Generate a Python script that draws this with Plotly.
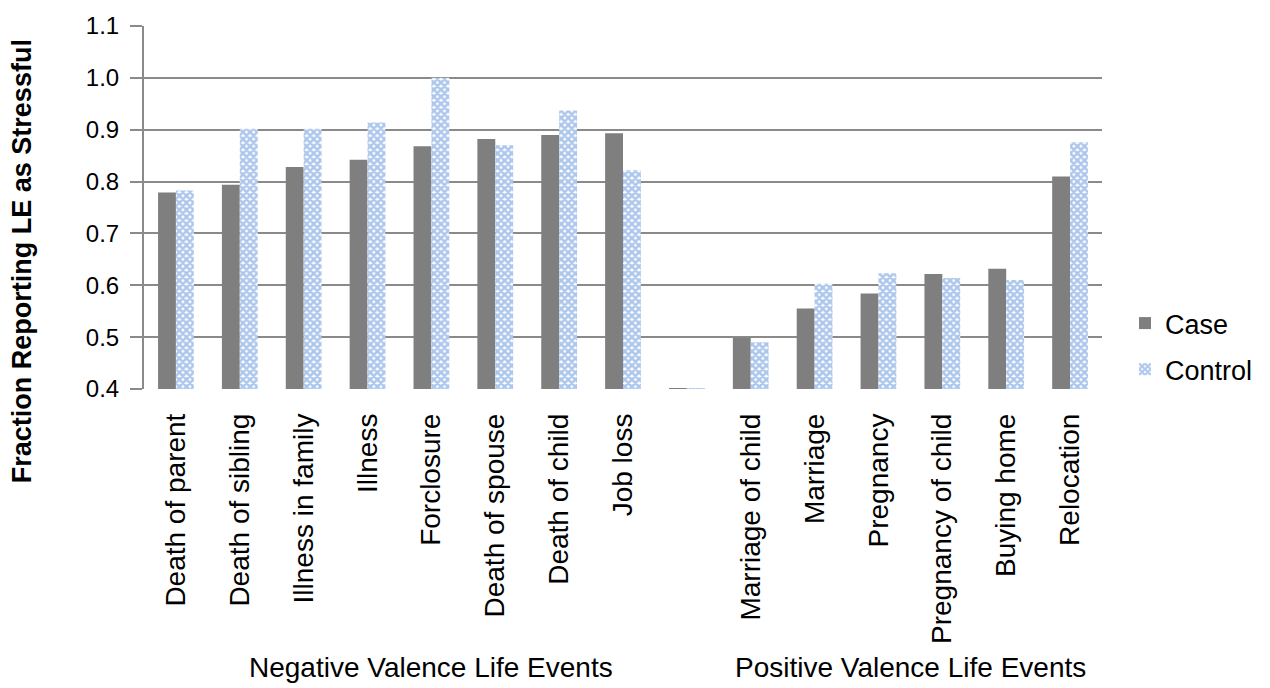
import plotly.graph_objects as go

# Life events (blank slot separates the two valence groups)
categories = [
    "Death of parent", "Death of sibling", "Illness in family", "Illness",
    "Forclosure", "Death of spouse", "Death of child", "Job loss", " ",
    "Marriage of child", "Marriage", "Pregnancy", "Pregnancy of child",
    "Buying home", "Relocation",
]
case_vals = [0.779, 0.794, 0.828, 0.842, 0.868, 0.882, 0.890, 0.893, 0.402,
             0.499, 0.555, 0.584, 0.622, 0.632, 0.810]
control_vals = [0.783, 0.902, 0.902, 0.914, 1.000, 0.870, 0.937, 0.822, 0.402,
                0.490, 0.603, 0.623, 0.614, 0.610, 0.876]
y_ticks = [0.4, 0.5, 0.6, 0.7, 0.8, 0.9, 1.0, 1.1]
group_labels = ["Negative Valence Life Events", "Positive Valence Life Events"]
group_centers = [4.0, 11.5]

FONT = "Arial, Liberation Sans, sans-serif"
GRID = "#8a8a8a"

fig = go.Figure()
fig.add_trace(go.Bar(
    x=categories, y=case_vals, name="Case",
    marker=dict(color="#7f7f7f", line=dict(width=0)),
    legendgroup="a",
))
fig.add_trace(go.Bar(
    x=categories, y=control_vals, name="Control",
    marker=dict(
        color="#ffffff",
        line=dict(width=0),
        pattern=dict(shape="x", size=5, solidity=0.75,
                     fgcolor="#5b8fd9", bgcolor="#ffffff", fillmode="overlay"),
    ),
    legendgroup="b",
))

for label, cx in zip(group_labels, group_centers):
    fig.add_annotation(
        x=cx, xref="x", y=-0.768, yref="paper", text=label,
        showarrow=False, xanchor="center", yanchor="middle",
        font=dict(family=FONT, size=28, color="#000000"),
    )

fig.add_annotation(
    x=-0.127, xref="paper", y=0.353, yref="paper",
    text="<b>Fraction Reporting LE as Stressful</b>", textangle=-90,
    showarrow=False, xanchor="center", yanchor="middle",
    font=dict(family=FONT, size=27, color="#000000"),
)

fig.update_layout(
    width=1270, height=688,
    margin=dict(l=144, r=168, t=22, b=299),
    paper_bgcolor="#ffffff", plot_bgcolor="#ffffff",
    barmode="group", bargap=0.44, bargroupgap=0,
    font=dict(family=FONT, color="#000000"),
    showlegend=True,
    legend=dict(
        x=1.024, xanchor="left", y=0.117, yanchor="middle",
        font=dict(family=FONT, size=27, color="#000000"),
        tracegroupgap=8, itemsizing="constant",
        bgcolor="rgba(0,0,0,0)",
    ),
)

fig.update_xaxes(
    type="category", tickangle=-90,
    tickfont=dict(family=FONT, size=28, color="#000000"),
    showgrid=False, showline=False, ticks="",
    ticklabelstandoff=18, zeroline=False,
)
fig.update_yaxes(
    range=[0.4, 1.1], tickvals=y_ticks,
    ticktext=[f"{v:.1f}" for v in y_ticks],
    tickfont=dict(family=FONT, size=24, color="#000000"),
    showgrid=True, gridcolor=GRID, gridwidth=2,
    showline=True, linecolor=GRID, linewidth=2,
    ticks="outside", ticklen=12, tickwidth=2, tickcolor=GRID,
    zeroline=False, ticklabelstandoff=6,
)

fig.write_html("out.html")
